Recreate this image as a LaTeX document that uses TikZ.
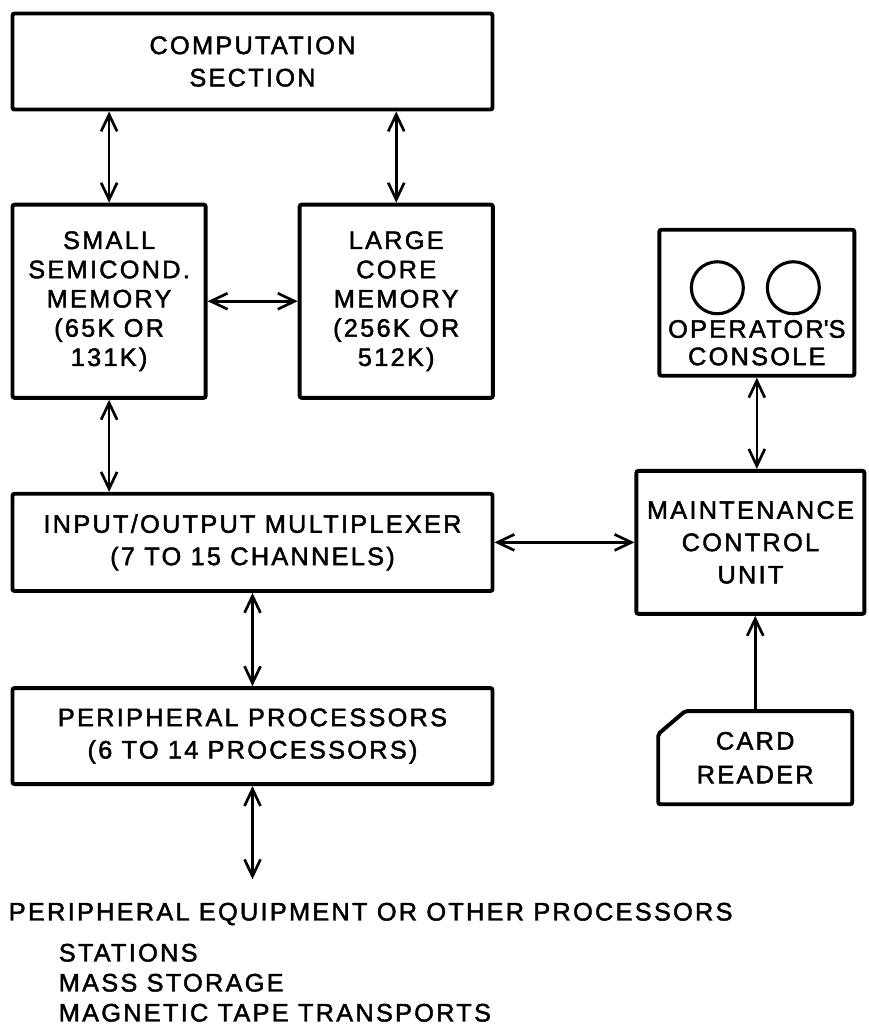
\documentclass[tikz,border=0pt]{standalone}
\usepackage{fontspec}
\setmainfont[LetterSpace=9, FakeBold=1.8]{Liberation Sans}
\usetikzlibrary{arrows.meta, positioning, calc}

\begin{document}
\begin{tikzpicture}[
        box/.style={
            draw,
            rectangle,
            line width=2.8pt,
            rounded corners=1.5pt,
            minimum width=12.0cm,
            minimum height=2.4cm,
            align=center,
            font=\fontsize{18}{23}\selectfont
        },
        membox/.style={
            box,
            minimum width=4.83cm,
            minimum height=4.83cm,
            font=\fontsize{18}{20.8}\selectfont
        },
        cardbox/.style={
            rectangle,
            outer sep=0pt,
            minimum width=4.85cm,
            minimum height=2.33cm,
            align=center,
            font=\fontsize{18}{24}\selectfont
        },
        dial/.style={draw, circle, line width=2.2pt, minimum size=1.3cm, inner sep=0pt},
        plain/.style={anchor=base west, inner sep=0pt, font=\fontsize{18}{22}\selectfont},
        arrow/.style={{Straight Barb[length=4.2mm, width=4mm]}-{Straight Barb[length=4.2mm, width=4mm]}, line width=1.9pt},
        onearrow/.style={-{Straight Barb[length=4.2mm, width=4mm]}, line width=1.9pt}
    ]

    \useasboundingbox (0,0) rectangle (21.7,-25.625);

    % Top node
    \node[box] (comp) at (6.3125,-1.5375) {COMPUTATION\\SECTION};

    % Memories
    \node[membox, below right=2.28cm and 0cm of comp.south west] (small) {SMALL\\SEMICOND.\\MEMORY\\(65K OR\\131K)};
    \node[membox, right=2.25cm of small] (large) {LARGE\\CORE\\MEMORY\\(256K OR\\512K)};

    % Multiplexer and peripheral processors
    \node[box, minimum height=2.43cm, below right=2.3cm and 0cm of small.south west] (io) {INPUT/OUTPUT MULTIPLEXER\\(7 TO 15 CHANNELS)};
    \node[box, below=2.33cm of io] (pp) {PERIPHERAL PROCESSORS\\(6 TO 14 PROCESSORS)};

    % Right column
    \node[box, minimum width=5.7cm, minimum height=3.575cm, right=3.5cm of io] (maint) {MAINTENANCE\\CONTROL\\UNIT};
    \node[box, minimum width=4.875cm, minimum height=3.65cm, above=2.28cm of maint, xshift=0.16cm] (console) {};
    \node[dial] (dialA) at ($(console.center)+(-0.9875,0.375)$) {};
    \node[dial] (dialB) at ($(console.center)+(0.9125,0.375)$) {};
    \node[align=center, font=\fontsize{18}{19.5}\selectfont] (consoletext) at ($(console.center)+(0,-1.0)$) {OPERATOR\textquotesingle S\\CONSOLE};

    % Card reader (cut corner)
    \node[cardbox, below=2.38cm of maint, xshift=0.12cm] (card) {CARD\\READER};
    \draw[line width=2.8pt, rounded corners=1.5pt] ($(card.north west)+(0.675,0)$) -- (card.north east) -- (card.south east) -- (card.south west) -- ($(card.north west)+(0,-0.575)$) -- cycle;

    % Outside equipment
    \coordinate[below=2.33cm of pp.south] (ppout);
    \node[plain] (periph) at ($(pp.south west)+(-0.05,-3.36)$) {PERIPHERAL EQUIPMENT OR OTHER PROCESSORS};
    \node[plain] (stations) at ($(periph.base west)+(1.25,-1.025)$) {STATIONS};
    \node[plain] (mass) at ($(stations.base west)+(0,-0.75)$) {MASS STORAGE};
    \node[plain] (tape) at ($(mass.base west)+(0,-0.75)$) {MAGNETIC TAPE TRANSPORTS};

    % Arrows
    \draw[arrow] (comp.south -| small.north) -- (small.north);
    \draw[arrow] (comp.south -| large.north) -- (large.north);
    \draw[arrow] (small) -- (large);
    \draw[arrow] (small.south) -- (small.south |- io.north);
    \draw[arrow] (io) -- (maint);
    \draw[arrow] (io) -- (pp);
    \draw[arrow] (pp.south) -- (ppout);
    \draw[arrow] (console.south) -- (console.south |- maint.north);
    \draw[onearrow] (card.north) -- (card.north |- maint.south);

\end{tikzpicture}
\end{document}
